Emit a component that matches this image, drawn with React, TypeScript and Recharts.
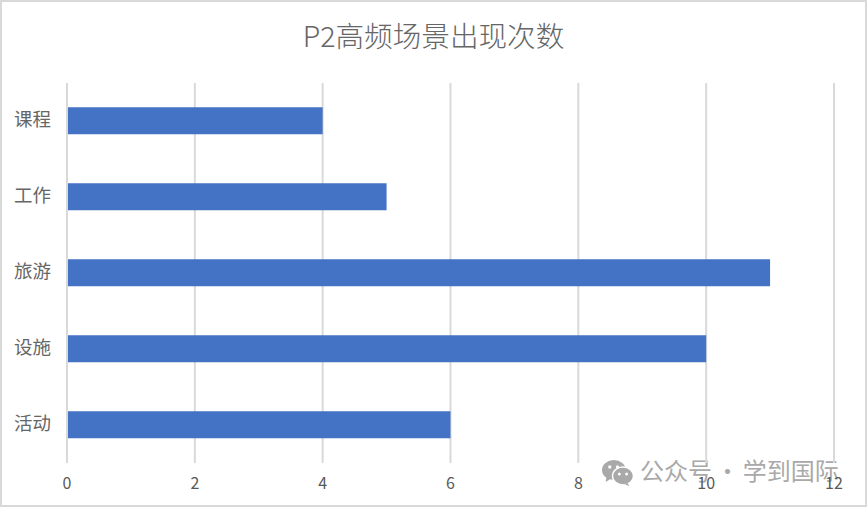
import { Bar, BarChart, CartesianGrid, XAxis, YAxis } from "recharts";

const categories = ["课程", "工作", "旅游", "设施", "活动"];
const counts = [4, 5, 11, 10, 6];
const xTicks = [0, 2, 4, 6, 8, 10, 12];

const data = categories.map((name, i) => ({ name, count: counts[i] }));
const font = '"Noto Sans CJK SC", "Noto Sans", sans-serif';

function WechatIcon() {
  return (
    <svg width={31} height={26} viewBox="0 0 34 26" preserveAspectRatio="none" style={{ position: "absolute", left: 600, top: 458 }}>
      <ellipse cx={13} cy={10} rx={13} ry={10} fill="#a9a9a9" />
      <path d="M5 16 L4 22 L11 18 Z" fill="#a9a9a9" />
      <ellipse cx={23} cy={16} rx={11.5} ry={9} fill="#a9a9a9" stroke="#fff" strokeWidth={1.5} />
      <path d="M28 23 L30 26 L24 24 Z" fill="#a9a9a9" />
      <circle cx={8.5} cy={7} r={1.8} fill="#fff" />
      <circle cx={17} cy={7} r={1.8} fill="#fff" />
      <circle cx={19} cy={14} r={1.6} fill="#fff" />
      <circle cx={27} cy={14} r={1.6} fill="#fff" />
    </svg>
  );
}

export default function App() {
  return (
    <div
      style={{
        position: "absolute",
        left: 0,
        top: 0,
        width: 867,
        height: 507,
        background: "#fff",
        boxSizing: "border-box",
        border: "2px solid #d9d9d9",
        fontFamily: font,
      }}
    >
      <div
        style={{
          position: "absolute",
          left: 0,
          width: 863,
          top: 13,
          textAlign: "center",
          fontSize: 28.6,
          fontWeight: 300,
          lineHeight: "40px",
          color: "#666",
        }}
      >
        P2高频场景出现次数
      </div>
      <WechatIcon />
      <div
        style={{
          position: "absolute",
          left: 638,
          top: 452,
          fontSize: 24,
          lineHeight: "32px",
          color: "#a9a9a9",
          whiteSpace: "nowrap",
          wordSpacing: -2,
        }}
      >
        公众号 · 学到国际
      </div>
      <BarChart
        layout="vertical"
        width={863}
        height={503}
        data={data}
        barCategoryGap="32%"
        margin={{ top: 81, right: 31, bottom: 0, left: 0 }}
        style={{ position: "absolute", left: 0, top: 0 }}
      >
        <CartesianGrid horizontal={false} stroke="#d9d9d9" strokeWidth={2} />
        <XAxis
          type="number"
          domain={[0, 12]}
          ticks={xTicks}
          axisLine={false}
          tickLine={false}
          tick={{ fill: "#595959", fontSize: 16 }}
          tickMargin={9}
          height={42}
        />
        <YAxis
          type="category"
          dataKey="name"
          width={65}
          axisLine={{ stroke: "#d9d9d9", strokeWidth: 2 }}
          tickLine={false}
          tick={{ fill: "#666", fontSize: 18.5, dy: -1.5 }}
          tickMargin={10}
        />
        <Bar dataKey="count" fill="#4472c4" isAnimationActive={false} />
      </BarChart>
    </div>
  );
}
